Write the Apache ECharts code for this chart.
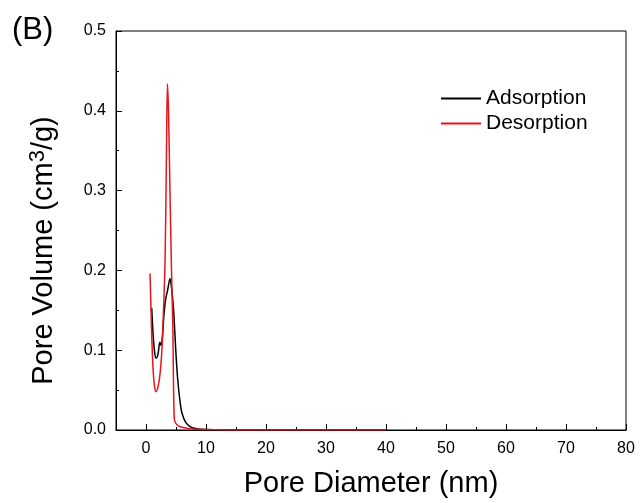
<!DOCTYPE html>
<html>
<head>
<meta charset="utf-8">
<script src="https://cdn.jsdelivr.net/npm/echarts@6/dist/echarts.min.js"></script>
<style>html,body{margin:0;padding:0;background:#fff}#c{width:641px;height:503px}</style>
</head>
<body>
<div id="c"></div>
<script>
var adsX = [0.95, 1.2, 1.45, 1.7, 2.0, 2.3, 2.5, 2.75, 3.0, 3.3, 3.6, 4.0, 4.3, 4.6, 5.0, 5.3, 5.7, 6.0, 6.6, 7.4, 8.5, 10, 13, 17, 22, 28, 34, 40];
var adsY = [0.153, 0.118, 0.097, 0.090, 0.095, 0.110, 0.106, 0.118, 0.145, 0.165, 0.175, 0.190, 0.175, 0.150, 0.095, 0.062, 0.034, 0.021, 0.010, 0.004, 0.0015, 0.0006, 0.0002, 0, 0, 0, 0, 0];
var desX = [0.67, 0.8, 0.95, 1.15, 1.4, 1.67, 2.0, 2.35, 2.65, 2.9, 3.18, 3.4, 3.57, 3.75, 4.0, 4.25, 4.47, 4.7, 5.0, 5.7, 7.0, 8.5, 10, 15, 20, 25, 30, 35, 40];
var desY = [0.196, 0.160, 0.120, 0.080, 0.056, 0.048, 0.054, 0.071, 0.100, 0.146, 0.213, 0.340, 0.434, 0.400, 0.297, 0.200, 0.129, 0.015, 0.008, 0.004, 0.002, 0.001, 0.0005, 0, 0, 0, 0, 0, 0];
var xMajor = [0, 10, 20, 30, 40, 50, 60, 70, 80];
var xMinor = [5, 15, 25, 35, 45, 55, 65, 75];
var seriesNames = ['Adsorption', 'Desorption'];

function pairs(xs, ys) { return xs.map(function (x, i) { return [x, ys[i]]; }); }
var FONT = 'Liberation Sans, Arial, sans-serif';
var chart = echarts.init(document.getElementById('c'));
chart.setOption({
  animation: false,
  backgroundColor: '#fff',
  textStyle: { fontFamily: FONT },
  graphic: [{ type: 'text', left: 12, top: 15, style: { text: '(B)', fontSize: 31, fontFamily: FONT, fill: '#000' } }],
  grid: { left: 116, right: 15, top: 31, bottom: 73, show: true, borderColor: '#000', borderWidth: 1 },
  legend: {
    orient: 'vertical', left: 441, top: 88, itemGap: 4, padding: 0,
    itemWidth: 40, itemHeight: 2, icon: 'rect',
    textStyle: { fontSize: 21, color: '#000', fontFamily: FONT },
    data: seriesNames
  },
  xAxis: [{
    type: 'value', min: -5, max: 80, interval: 5,
    name: 'Pore Diameter (nm)', nameLocation: 'middle', nameGap: 39,
    nameTextStyle: { fontSize: 29, color: '#000', fontFamily: FONT },
    axisLine: { onZero: false, lineStyle: { color: '#000', width: 1 } },
    axisTick: { inside: true, length: 6, customValues: xMajor, lineStyle: { color: '#000' } },
    axisLabel: { customValues: xMajor, fontSize: 16, color: '#000', margin: 11, fontFamily: FONT },
    splitLine: { show: false }
  }, {
    type: 'value', min: -5, max: 80, interval: 5, position: 'bottom',
    axisLine: { show: false, onZero: false },
    axisTick: { inside: true, length: 3, customValues: xMinor, lineStyle: { color: '#000' } },
    axisLabel: { show: false },
    splitLine: { show: false }
  }],
  yAxis: {
    type: 'value', min: 0, max: 0.5, interval: 0.1,
    name: 'Pore Volume (cm{sup|3}/g)', nameLocation: 'middle', nameGap: 55,
    nameTextStyle: { fontSize: 29, color: '#000', fontFamily: FONT, padding: [0, 40, 0, 0],
      rich: { sup: { fontSize: 22, verticalAlign: 'top', padding: [0, 0, 12, 0], fontFamily: FONT, color: '#000' } } },
    axisLine: { show: true, onZero: false, lineStyle: { color: '#000', width: 1 } },
    axisTick: { inside: true, length: 6, lineStyle: { color: '#000' } },
    minorTick: { show: true, splitNumber: 2, length: 3, lineStyle: { color: '#000' } },
    axisLabel: { fontSize: 16, color: '#000', margin: 10, fontFamily: FONT, formatter: function (v) { return v.toFixed(1); } },
    splitLine: { show: false }
  },
  series: [{
    name: seriesNames[0], type: 'line', xAxisIndex: 0, data: pairs(adsX, adsY),
    showSymbol: false, smooth: 0.3, lineStyle: { color: '#000', width: 1.5 }, itemStyle: { color: '#000' }, z: 3
  }, {
    name: seriesNames[1], type: 'line', xAxisIndex: 0, data: pairs(desX, desY),
    showSymbol: false, smooth: 0.3, lineStyle: { color: '#e8141b', width: 1.5 }, itemStyle: { color: '#e8141b' }, z: 4
  }]
});
</script>
</body>
</html>
